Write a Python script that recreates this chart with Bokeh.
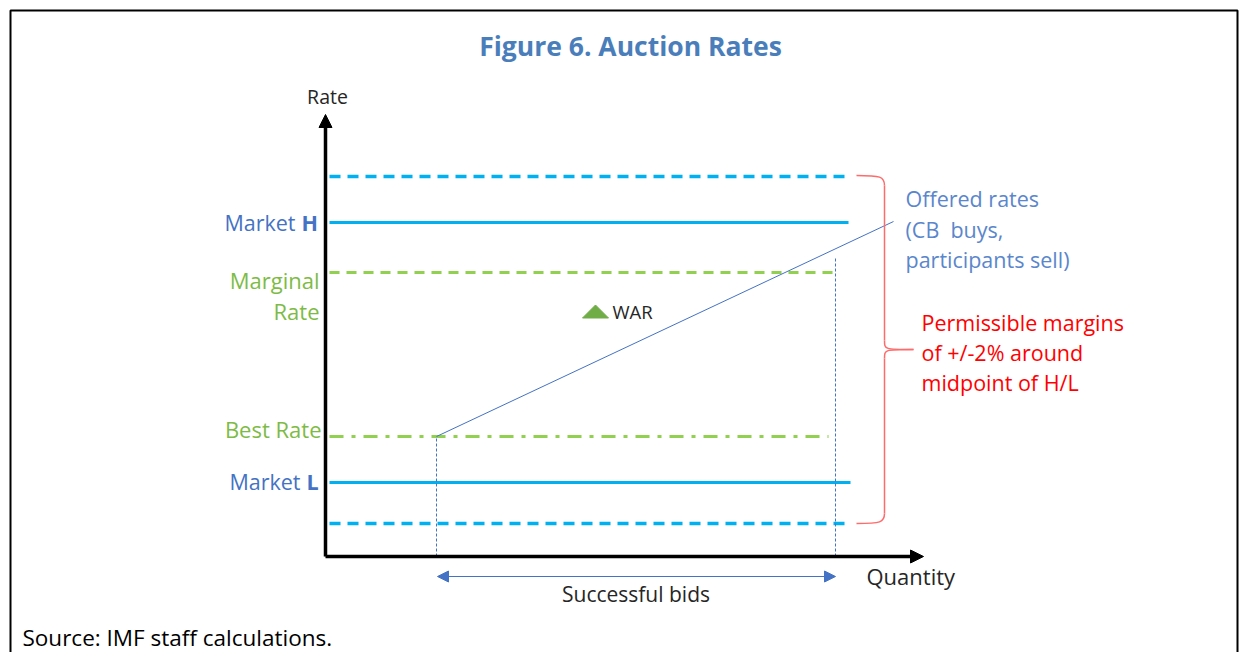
from bokeh.plotting import figure
from bokeh.models import Range1d, Arrow, NormalHead
from bokeh.core.properties import value
from bokeh.embed import file_html
from bokeh.resources import INLINE

# ---- schematic data (arbitrary rate / quantity units) ----
level_names = ["Upper margin", "Market H", "Marginal Rate", "Best Rate", "Market L", "Lower margin"]
level_rates = [38.0, 33.4, 28.4, 12.0, 7.4, 3.3]
level_q_end = [52.0, 52.2, 50.9, 50.2, 52.4, 52.0]
level_colors = ["#00B0F0", "#00B0F0", "#92D050", "#92D050", "#00B0F0", "#00B0F0"]
level_dash = ["11 7", "solid", "10 7", "14 8 4 8", "solid", "11 7"]
level_width = [3.5, 3, 3, 3, 3, 3.5]

war_q, war_rate = 26.9, 24.5
offered_q = [11.0, 56.7]
offered_rate = [12.0, 33.5]
best_q = 11.0
marginal_q = 50.9
marginal_top = 29.9
axis_q_max = 59.7
axis_rate_max = 44.2

FONT = "Open Sans"
BLUE_TXT = "#4472C4"
GREEN_TXT = "#7DBB45"

p = figure(width=1240, height=652, output_backend="svg", toolbar_location=None,
           x_range=Range1d(-32.6, 91.4), y_range=Range1d(-9.6, 55.6), min_border=0)
p.axis.visible = False
p.grid.visible = False
p.outline_line_color = None
p.background_fill_color = "white"

# frame border
p.line([-31.6, -31.6, 91.1, 91.1], [-9.6, 54.6, 54.6, -9.6], line_color="black", line_width=2)

# level lines
for r, qe, c, d, w in zip(level_rates, level_q_end, level_colors, level_dash, level_width):
    p.line([0.3, qe], [r, r], line_color=c, line_width=w, line_dash=d)

# vertical dotted guides
p.line([best_q, best_q], [0, level_rates[3]], line_color="#4472C4", line_width=1, line_dash="3 2")
p.line([marginal_q, marginal_q], [0, marginal_top], line_color="#4472C4", line_width=1, line_dash="3 2")

# offered rates line
p.line(offered_q, offered_rate, line_color="#4472C4", line_width=1)

# WAR triangle
p.patch([war_q - 1.3, war_q + 1.3, war_q], [war_rate - 0.65, war_rate - 0.65, war_rate + 0.65],
        fill_color="#70AD47", line_color="#70AD47")
p.text([war_q + 1.7], [war_rate], text=["WAR"], text_font=value(FONT), text_font_size="18.5px",
       text_baseline="middle", text_color="#262626")

# axes with arrow heads
p.add_layout(Arrow(end=NormalHead(size=13, fill_color="black", line_color="black"),
                   x_start=-0.1, y_start=0, x_end=-0.1, y_end=axis_rate_max, line_width=3.5))
p.add_layout(Arrow(end=NormalHead(size=13, fill_color="black", line_color="black"),
                   x_start=-0.1, y_start=0, x_end=axis_q_max, y_end=0, line_width=3.5))

# successful bids arrow
p.add_layout(Arrow(start=NormalHead(size=11, fill_color="#4472C4", line_color="#4472C4"),
                   end=NormalHead(size=11, fill_color="#4472C4", line_color="#4472C4"),
                   x_start=best_q + 0.1, y_start=-2.0, x_end=marginal_q, y_end=-2.0,
                   line_color="#4472C4", line_width=1.2))
p.text([(best_q + marginal_q) / 2], [-3.7], text=["Successful bids"], text_font=value(FONT),
       text_font_size="21px", text_align="center", text_baseline="middle", text_color="#262626")

# brace
top, bot = level_rates[0] + 0.1, level_rates[-1]
mid = (top + bot) / 2
bx, bs, bt = 55.8, 53.0, 58.7
RED = "#FF6B6B"
p.bezier(x0=[bs], y0=[top], x1=[bx], y1=[top - 1.0], cx0=[bx - 0.4], cy0=[top], cx1=[bx], cy1=[top - 0.1],
         line_color=RED, line_width=1.5)
p.line([bx, bx], [top - 1.0, mid + 0.9], line_color=RED, line_width=1.5)
p.bezier(x0=[bx, bt], y0=[mid + 0.9, mid], x1=[bt, bx], y1=[mid, mid - 0.9],
         cx0=[bx, bx], cy0=[mid, mid], cx1=[bx, bx], cy1=[mid, mid],
         line_color=RED, line_width=1.5)
p.line([bx, bx], [mid - 0.9, bot + 1.0], line_color=RED, line_width=1.5)
p.bezier(x0=[bx], y0=[bot + 1.0], x1=[bs], y1=[bot], cx0=[bx], cy0=[bot + 0.1], cx1=[bx - 0.4], cy1=[bot],
         line_color=RED, line_width=1.5)

# labels
def txt(x, y, s, color, size="22px", align="right", style="normal"):
    p.text([x], [y], text=[s], text_font=value(FONT), text_font_size=size, text_align=align,
           text_baseline="middle", text_color=color, text_font_style=style)

txt(-3.1, level_rates[1], "Market", BLUE_TXT, size="21.5px")
txt(-2.5, level_rates[1], "H", BLUE_TXT, size="21.5px", align="left", style="bold")
txt(-0.7, 27.7, "Marginal", GREEN_TXT)
txt(-0.7, 24.6, "Rate", GREEN_TXT)
txt(-0.5, 12.8, "Best Rate", GREEN_TXT)
txt(-2.6, level_rates[4] + 0.1, "Market", BLUE_TXT, size="21.5px")
txt(-2.0, level_rates[4] + 0.1, "L", BLUE_TXT, size="21.5px", align="left", style="bold")

# axis titles
txt(0.1, 46.0, "Rate", "#262626", size="19.5px", align="center")
txt(54.0, -1.9, "Quantity", "#262626", size="22px", align="left")

# right annotations
txt(57.9, 35.8, "Offered rates", "#5A86CC", size="21.5px", align="left")
txt(57.9, 32.7, "(CB\u00a0 buys,", "#5A86CC", size="21.5px", align="left")
txt(57.9, 29.7, "participants sell)", "#5A86CC", size="21.5px", align="left")
txt(59.5, 23.4, "Permissible margins", "#FF0000", size="21.5px", align="left")
txt(59.5, 20.4, "of +/-2% around", "#FF0000", size="21.5px", align="left")
txt(59.5, 17.4, "midpoint of H/L", "#FF0000", size="21.5px", align="left")

# title and source
txt(30.4, 51.1, "Figure 6. Auction Rates", "#4A7EBB", size="26.5px", align="center", style="bold")
txt(-30.4, -8.1, "Source: IMF staff calculations.", "#000000", size="22.5px", align="left")

open("out.html", "w").write(file_html(p, INLINE))
